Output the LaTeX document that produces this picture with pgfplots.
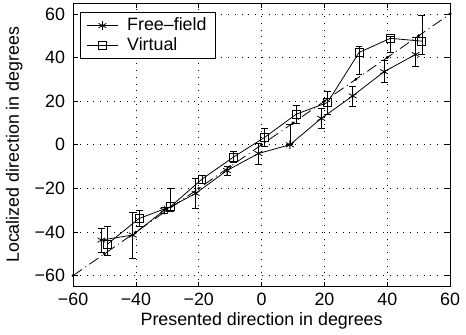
\documentclass[border=0pt]{standalone}
\usepackage{fontspec}
\setmainfont{Liberation Sans}
\usepackage{pgfplots}
\pgfplotsset{compat=1.18}
\begin{document}
\fontsize{18}{21}\selectfont
\begin{tikzpicture}
\begin{axis}[
  scale only axis, width=379bp, height=285bp,
  xmin=-60, xmax=60, ymin=-65, ymax=65,
  xtick={-60,-40,-20,0,20,40,60},
  xticklabels={−60,−40,−20,0,20,40,60},
  ytick={-60,-40,-20,0,20,40,60},
  yticklabels={−60,−40,−20,0,20,40,60},
  tick align=inside, major tick length=5bp,
  tick style={black, line width=0.6pt},
  axis line style={line width=0.8pt},
  grid=major,
  grid style={black, line width=0.6pt, dash pattern=on 0.8pt off 6pt},
  xlabel={Presented direction in degrees},
  ylabel={Localized direction in degrees},
  every tick label/.append style={font=\fontsize{18}{21}\selectfont},
  yticklabel style={xshift=-2bp},
  label style={font=\fontsize{18}{21}\selectfont},
  xlabel style={yshift=5bp},
  ylabel style={yshift=0bp},
  legend style={at={(axis description cs:0.018,0.968)}, anchor=north west,
    draw=black, line width=0.6pt, font=\fontsize{18}{21}\selectfont,
    inner xsep=6bp, inner ysep=3bp, row sep=-1bp, cells={anchor=west},
    nodes={inner sep=2.5bp},
    /tikz/every odd column/.append style={column sep=6bp}},
  legend image code/.code={\draw[mark repeat=2,mark phase=2,#1] plot coordinates {(0bp,0bp) (16bp,0bp) (32bp,0bp)};},
]
\addplot[black, line width=0.8pt, mark=asterisk, mark size=4.5bp, mark options={solid, line width=0.8pt},
  error bars/.cd, y dir=both, y explicit, error mark options={rotate=90, mark size=3.5bp, line width=0.7pt},
  error bar style={line width=0.7pt}]
  table[x=x, y=y, y error plus=ep, y error minus=em] {
x y ep em
-51 -43.7 5.5 5.5
-41 -41.4 10.5 10.5
-31 -30.0 1.5 1.5
-21 -22.3 7.0 7.0
-11 -11.8 2.0 2.0
-1 -4.0 4.5 4.8
9 0.0 9.5 0.0
19 12.1 4.5 4.5
29 22.4 4.6 4.6
39 33.5 5.0 5.0
49 41.4 8.0 5.4
};
\addlegendentry{Free--field\hspace{14bp}}
\addplot[black, line width=0.8pt, mark=square, mark size=4bp, mark options={solid, line width=0.8pt},
  error bars/.cd, y dir=both, y explicit, error mark options={rotate=90, mark size=3.5bp, line width=0.7pt},
  error bar style={line width=0.7pt}]
  table[x=x, y=y, y error plus=ep, y error minus=em] {
x y ep em
-49 -45.5 8.0 5.3
-39 -33.8 3.5 3.5
-29 -28.4 8.5 2.0
-19 -15.8 2.0 2.0
-9 -5.7 2.5 2.5
1 3.4 4.0 4.0
11 14.0 4.0 4.0
21 19.4 5.0 5.5
31 42.3 3.0 10.0
41 48.8 1.0 6.5
51 47.5 12.0 6.0
};
\addlegendentry{Virtual}
\addplot[black, line width=0.8pt, dash pattern=on 11bp off 4bp on 1bp off 4bp, mark=*, mark size=1bp, mark options={solid}, forget plot]
  coordinates {(-60,-60) (-50,-50) (-40,-40) (-30,-30) (-20,-20) (-10,-10) (0,0) (10,10) (20,20) (30,30) (40,40) (50,50) (60,60)};
\end{axis}
\path ([yshift=3bp]current axis.north);
\end{tikzpicture}
\end{document}
